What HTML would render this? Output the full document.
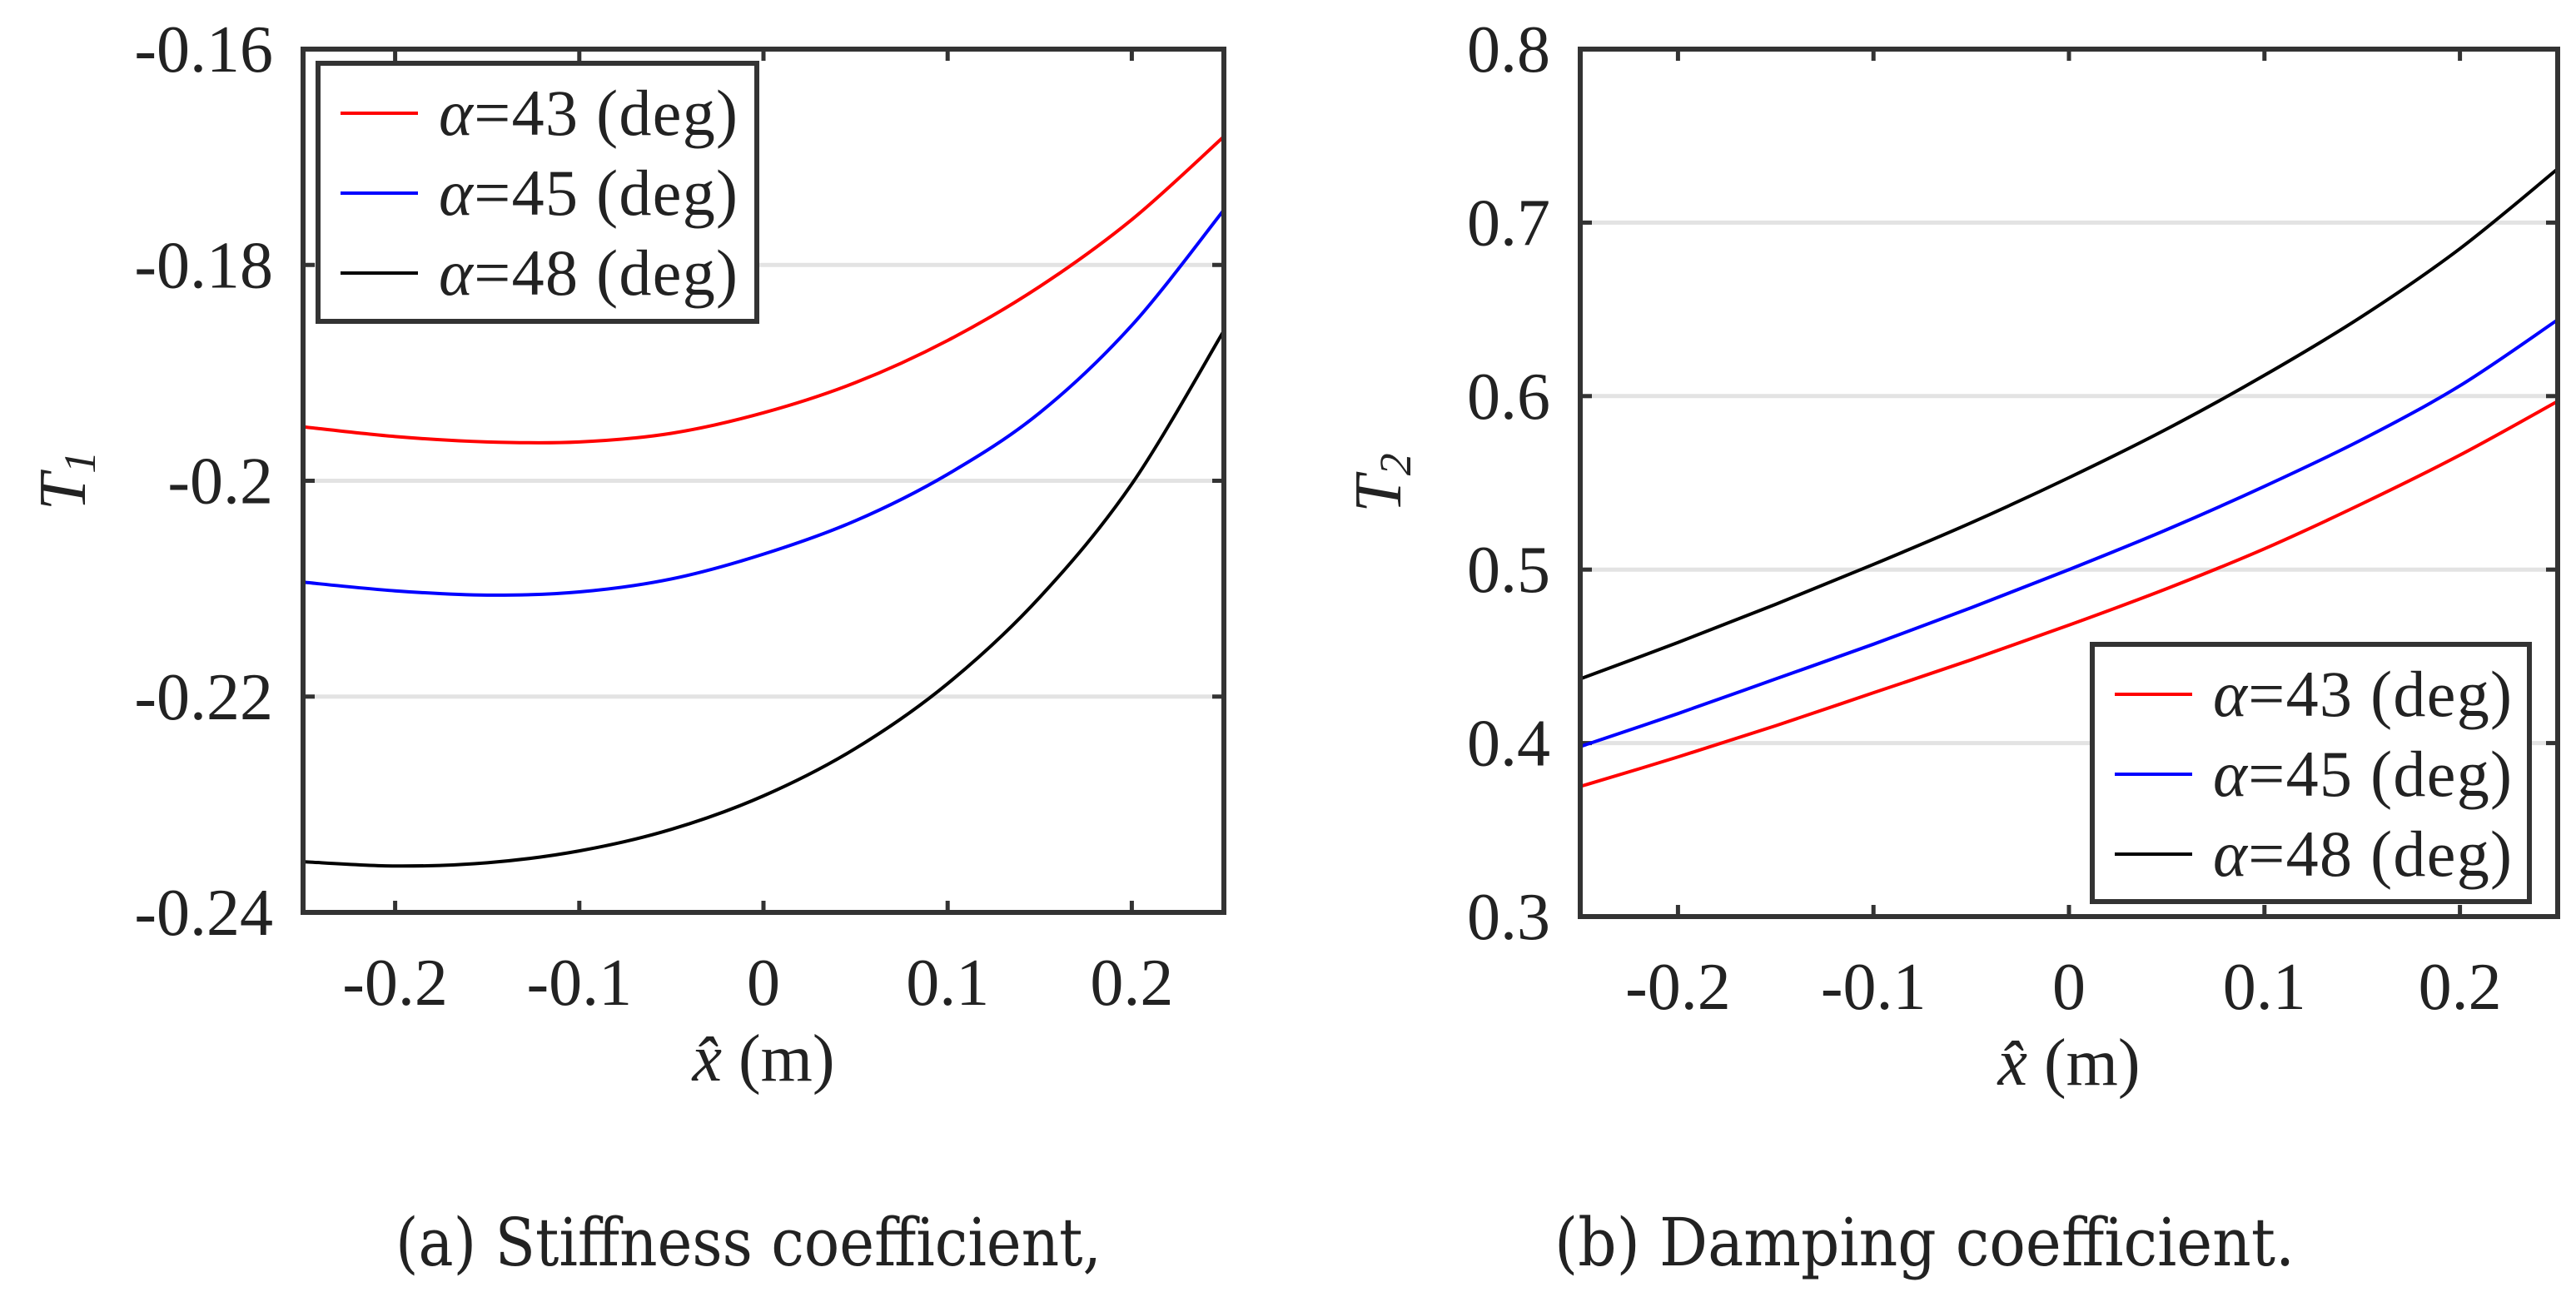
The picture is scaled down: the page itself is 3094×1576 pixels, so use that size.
<!DOCTYPE html>
<html><head><meta charset="utf-8">
<style>
html,body{margin:0;padding:0;background:#fff;}
svg{display:block;}
text{font-family:"Liberation Serif",serif;fill:#222;}
</style></head>
<body>
<svg id="fig" width="3094" height="1576" viewBox="0 0 3094 1576" xmlns="http://www.w3.org/2000/svg">
<g id="left"></g>
<g id="right"></g>
<text x="475" y="1520" font-size="80" textLength="848" lengthAdjust="spacingAndGlyphs" style="font-family:'DejaVu Serif',serif">(a) Stiffness coefficient,</text>
<text x="1867" y="1520" font-size="80" textLength="889" lengthAdjust="spacingAndGlyphs" style="font-family:'DejaVu Serif',serif">(b) Damping coefficient.</text>
</svg>
<script>
const xValues = [-0.25,-0.2,-0.15,-0.1,-0.05,0,0.05,0.1,0.15,0.2,0.25];
const seriesLabels = ["α=43 (deg)","α=45 (deg)","α=48 (deg)"];
const seriesColors = ["#ff0000","#0000ff","#000000"];
const t1Red   = [-0.1950,-0.1959,-0.1964,-0.1964,-0.1956,-0.1937,-0.1909,-0.1870,-0.1820,-0.1758,-0.1681];
const t1Blue  = [-0.2094,-0.2102,-0.2106,-0.2103,-0.2091,-0.2068,-0.2037,-0.1994,-0.1937,-0.1856,-0.1749];
const t1Black = [-0.2353,-0.2357,-0.2354,-0.2343,-0.2323,-0.2292,-0.2248,-0.2188,-0.2108,-0.2003,-0.1861];
const t2Red   = [0.375,0.392,0.410,0.429,0.448,0.468,0.489,0.512,0.538,0.566,0.597];
const t2Blue  = [0.398,0.417,0.437,0.457,0.478,0.500,0.523,0.548,0.575,0.606,0.644];
const t2Black = [0.437,0.458,0.480,0.503,0.527,0.553,0.581,0.612,0.646,0.685,0.731];
const xTicks = [-0.2,-0.1,0,0.1,0.2];
const xTickLabels = ["-0.2","-0.1","0","0.1","0.2"];
const t1Ticks = [-0.24,-0.22,-0.2,-0.18,-0.16];
const t1TickLabels = ["-0.24","-0.22","-0.2","-0.18","-0.16"];
const t2Ticks = [0.3,0.4,0.5,0.6,0.7,0.8];
const t2TickLabels = ["0.3","0.4","0.5","0.6","0.7","0.8"];

const NS="http://www.w3.org/2000/svg";
function mk(tag,parent,attrs){const e=document.createElementNS(NS,tag);for(const k in attrs)e.setAttribute(k,attrs[k]);parent.appendChild(e);return e;}
function smoothPath(pts){
  let d="M"+pts[0][0].toFixed(1)+","+pts[0][1].toFixed(1);
  for(let i=0;i<pts.length-1;i++){
    const p0=pts[i-1]||pts[i],p1=pts[i],p2=pts[i+1],p3=pts[i+2]||p2;
    const c1=[p1[0]+(p2[0]-p0[0])/6,p1[1]+(p2[1]-p0[1])/6];
    const c2=[p2[0]-(p3[0]-p1[0])/6,p2[1]-(p3[1]-p1[1])/6];
    d+=" C"+c1.join(",")+" "+c2.join(",")+" "+p2.join(",");
  }
  return d;
}
function chart(g,cfg){
  const {L,R,T,B,ymin,ymax,yt,ytl,series,sub,leg}=cfg;
  const sx=v=>L+(v+0.25)/0.5*(R-L);
  const sy=v=>B-(v-ymin)/(ymax-ymin)*(B-T);
  yt.forEach((v,i)=>{
    const y=sy(v);
    if(i>0&&i<yt.length-1){const gl=mk("line",g,{x1:L,x2:R,y1:y,y2:y,stroke:"#e3e3e3","stroke-width":5});
      
      }
    mk("line",g,{x1:L,x2:L+14,y1:y,y2:y,stroke:"#333","stroke-width":5});
    mk("line",g,{x1:R-14,x2:R,y1:y,y2:y,stroke:"#333","stroke-width":5});
    const t=mk("text",g,{x:L-36,y:y+27,"font-size":80,"text-anchor":"end"});t.textContent=ytl[i];
    
    
  });
  xTicks.forEach((v,i)=>{
    const x=sx(v);
    mk("line",g,{x1:x,x2:x,y1:B,y2:B-14,stroke:"#333","stroke-width":5});
    mk("line",g,{x1:x,x2:x,y1:T,y2:T+14,stroke:"#333","stroke-width":5});
    const t=mk("text",g,{x:x,y:B+111,"font-size":80,"text-anchor":"middle"});t.textContent=xTickLabels[i];
    
    
  });
  series.forEach((s,i)=>{
    const p=mk("path",g,{d:smoothPath(xValues.map((x,j)=>[sx(x),sy(s[j])])),fill:"none",stroke:seriesColors[i],"stroke-width":4});
    
    
  });
  const box=mk("rect",g,{x:L,y:T,width:R-L,height:B-T,fill:"none",stroke:"#333","stroke-width":6});
  
  
  const xl=mk("text",g,{x:(L+R)/2,y:B+202,"font-size":80,"text-anchor":"middle"});
  xl.innerHTML='<tspan font-style="italic">x̂</tspan> (m)';
  
  
  const yl=mk("text",g,{transform:`translate(${cfg.ylx},${(T+B)/2}) rotate(-90)`,"font-size":80,"text-anchor":"middle"});
  yl.innerHTML='<tspan font-style="italic">T</tspan><tspan font-size="54" dy="12" font-style="italic">'+sub+'</tspan>';
  
  
  const lg=mk("g",g,{});
  
  
  mk("rect",lg,{x:leg[0],y:leg[1],width:leg[2],height:leg[3],fill:"#fff",stroke:"#333","stroke-width":6});
  seriesLabels.forEach((lab,i)=>{
    const y=leg[1]+60+i*96;
    const e=mk("g",lg,{});
    
    
    mk("line",e,{x1:leg[0]+27,x2:leg[0]+120,y1:y,y2:y,stroke:seriesColors[i],"stroke-width":4});
    const t=mk("text",e,{x:leg[0]+145,y:y+26,"font-size":78,textLength:359});
    t.innerHTML='<tspan font-style="italic">α</tspan>'+lab.slice(1);
  });
}
chart(document.getElementById("left"),{L:364,R:1470,T:59,B:1096,ymin:-0.24,ymax:-0.16,yt:t1Ticks,ytl:t1TickLabels,
  series:[t1Red,t1Blue,t1Black],sub:"1",ylx:102,leg:[382,76,527,310]});
chart(document.getElementById("right"),{L:1898,R:3072,T:59,B:1101,ymin:0.3,ymax:0.8,yt:t2Ticks,ytl:t2TickLabels,
  series:[t2Red,t2Blue,t2Black],sub:"2",ylx:1682,leg:[2513,774,525,309]});
</script>
</body></html>
